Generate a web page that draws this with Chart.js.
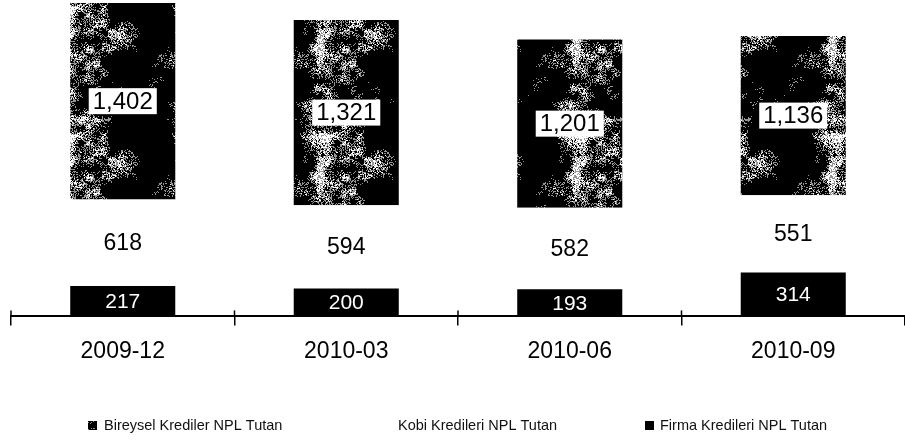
<!DOCTYPE html>
<html>
<head>
<meta charset="utf-8">
<script src="https://cdn.jsdelivr.net/npm/chart.js@4.4.1/dist/chart.umd.min.js"></script>
<style>
  html, body { margin: 0; padding: 0; background: #fff; }
  #wrap { width: 905px; height: 441px; }
</style>
</head>
<body>
<div id="wrap"><canvas id="nplChart" width="905" height="441"></canvas></div>
<script>
// Data (stacked bottom -> top: Firma, Kobi, Bireysel)
const periods = ['2009-12', '2010-03', '2010-06', '2010-09'];
const firmaNpl = [217, 200, 193, 314];
const kobiNpl = [618, 594, 582, 551];
const bireyselNpl = [1402, 1321, 1201, 1136];
const seriesNames = ['Bireysel Krediler NPL Tutan', 'Kobi Kredileri NPL Tutan', 'Firma Kredileri NPL Tutan'];

const FONT = '"Liberation Sans", Arial, Helvetica, sans-serif';

// Scanned-looking mottled fill for the Bireysel segments (deterministic hash noise)
function makeSpeckle(size) {
  const c = document.createElement('canvas');
  c.width = c.height = size;
  const g = c.getContext('2d');
  const img = g.createImageData(size, size);
  const hash = (x, y) => {
    const s = Math.sin(x * 127.1 + y * 311.7) * 43758.5453;
    return s - Math.floor(s);
  };
  const smooth = (x, y, cell) => {
    const n = size / cell;
    const gx = x / cell, gy = y / cell;
    const x0 = Math.floor(gx), y0 = Math.floor(gy);
    let fx = gx - x0, fy = gy - y0;
    fx = fx * fx * (3 - 2 * fx);
    fy = fy * fy * (3 - 2 * fy);
    const a = hash(x0 % n, y0 % n), b = hash((x0 + 1) % n, y0 % n);
    const c2 = hash(x0 % n, (y0 + 1) % n), d = hash((x0 + 1) % n, (y0 + 1) % n);
    const top = a + (b - a) * fx, bot = c2 + (d - c2) * fx;
    return top + (bot - top) * fy;
  };
  for (let y = 0; y < size; y++) {
    for (let x = 0; x < size; x++) {
      const v = 0.6 * smooth(x, y, 32) + 0.3 * smooth(x, y, 8) + 0.28 * hash(x + 7, y + 3);
      let col = 0;
      if (v > 0.84) col = 255;
      else if (v > 0.74) col = 150;
      const i = (y * size + x) * 4;
      img.data[i] = img.data[i + 1] = img.data[i + 2] = col;
      img.data[i + 3] = 255;
    }
  }
  g.putImageData(img, 0, 0);
  return g.createPattern(c, 'repeat');
}

const ctx = document.getElementById('nplChart').getContext('2d');
const speckle = makeSpeckle(128);

// value labels centred in each visible segment
const segmentLabels = {
  id: 'segmentLabels',
  afterDatasetsDraw(chart) {
    const g = chart.ctx;
    const area = chart.chartArea;
    g.save();
    chart.data.datasets.forEach((ds, d) => {
      const meta = chart.getDatasetMeta(d);
      meta.data.forEach((bar, i) => {
        const top = Math.max(bar.y, area.top);
        const cy = (top + bar.base) / 2;
        const text = ds.data[i].toLocaleString('en-US');
        g.font = ds.labelFont;
        g.textAlign = 'center';
        g.textBaseline = 'middle';
        if (ds.labelBox) {
          const w = g.measureText(text).width;
          g.fillStyle = '#fff';
          g.fillRect(bar.x - w / 2 - 4, cy - 13, w + 8, 26);
        }
        g.fillStyle = ds.labelColor;
        g.fillText(text, bar.x, cy + 1);
      });
    });
    g.restore();
  }
};

// short upward part of the category tick marks
const axisTicks = {
  id: 'axisTicks',
  afterDraw(chart) {
    const g = chart.ctx;
    const x = chart.scales.x;
    const step = x.width / chart.data.labels.length;
    g.save();
    g.strokeStyle = '#000';
    g.lineWidth = 1.5;
    for (let i = 0; i < chart.data.labels.length; i++) {
      const px = x.left + i * step;
      g.beginPath();
      g.moveTo(px, x.top - 6);
      g.lineTo(px, x.top);
      g.stroke();
    }
    g.restore();
  }
};

// legend along the bottom, Bireysel / Kobi / Firma
const bottomLegend = {
  id: 'bottomLegend',
  afterDraw(chart) {
    const g = chart.ctx;
    const items = [
      { ds: 2, markerX: 88, textX: 104 },
      { ds: 1, markerX: 386, textX: 398 },
      { ds: 0, markerX: 645, textX: 660 }
    ];
    const y = 426;
    g.save();
    g.font = '14.5px ' + FONT;
    g.textBaseline = 'middle';
    g.textAlign = 'left';
    items.forEach(it => {
      const ds = chart.data.datasets[it.ds];
      g.fillStyle = ds.backgroundColor;
      g.fillRect(it.markerX, y - 5, 9, 9);
      g.fillStyle = '#111';
      g.fillText(ds.label, it.textX, y);
    });
    g.restore();
  }
};

new Chart(ctx, {
  type: 'bar',
  data: {
    labels: periods,
    datasets: [
      {
        label: seriesNames[2],
        data: firmaNpl,
        backgroundColor: '#000',
        labelColor: '#fff',
        labelFont: '21px ' + FONT
      },
      {
        label: seriesNames[1],
        data: kobiNpl,
        backgroundColor: '#fff',
        labelColor: '#000',
        labelFont: '23px ' + FONT
      },
      {
        label: seriesNames[0],
        data: bireyselNpl,
        backgroundColor: speckle,
        labelColor: '#000',
        labelFont: '24px ' + FONT,
        labelBox: true
      }
    ]
  },
  options: {
    responsive: false,
    animation: false,
    layout: {
      padding: { left: 11, right: 0, top: 0, bottom: 64 }
    },
    datasets: {
      bar: { categoryPercentage: 1, barPercentage: 0.47 }
    },
    plugins: {
      legend: { display: false },
      tooltip: { enabled: false }
    },
    scales: {
      x: {
        stacked: true,
        border: { display: true, color: '#000', width: 2 },
        grid: {
          display: true,
          offset: true,
          drawOnChartArea: false,
          drawTicks: true,
          tickLength: 9,
          color: '#000',
          lineWidth: 1.5
        },
        ticks: {
          color: '#000',
          padding: 12,
          font: { family: FONT, size: 23 }
        }
      },
      y: {
        stacked: true,
        display: false,
        min: 0,
        max: 2258
      }
    }
  },
  plugins: [segmentLabels, axisTicks, bottomLegend]
});
</script>
</body>
</html>
